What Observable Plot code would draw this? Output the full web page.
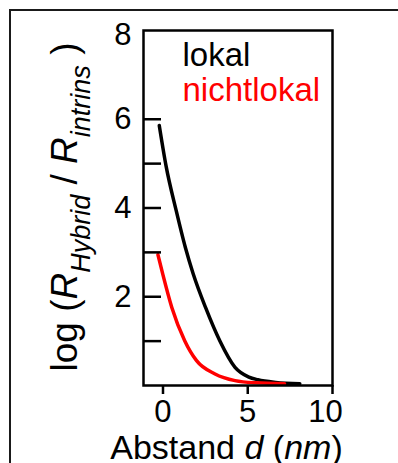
<!DOCTYPE html>
<html>
<head>
<meta charset="utf-8">
<script src="https://cdn.jsdelivr.net/npm/d3@7"></script>
<script src="https://cdn.jsdelivr.net/npm/@observablehq/plot@0.6"></script>
<style>
  html, body { margin: 0; padding: 0; background: #fff; overflow: hidden; }
  #wrap { position: relative; width: 398px; height: 463px; overflow: hidden; }
  #box { position: absolute; left: 9px; top: 9px; width: 600px; height: 700px;
         border-left: 2px solid #1a1a1a; border-top: 2px solid #1a1a1a; }
  #chart { position: absolute; left: 0; top: 0; }
</style>
</head>
<body>
<div id="wrap"><div id="box"></div><div id="chart"></div></div>
<script>
// Distance d (nm) and log(R_Hybrid / R_intrins) for the local model
const lokalD = [-0.22, 0.18, 0.78, 1.32, 1.78, 2.51, 3.35, 4.25, 5.07, 5.6, 6.65, 8.07];
const lokalV = [5.86, 4.95, 3.94, 3.11, 2.52, 1.76, 1.01, 0.41, 0.19, 0.13, 0.07, 0.04];
// ... and for the nonlocal model
const nichtD = [-0.3, -0.02, 0.52, 1.28, 1.98, 3.07, 4.25, 5.5, 7.17];
const nichtV = [2.95, 2.52, 1.76, 1.01, 0.56, 0.26, 0.11, 0.06, 0.04];

const seriesNames = ["lokal", "nichtlokal"];
const seriesColors = ["#000000", "#ff0000"];

const xTicks = [0, 5, 10];
const yTickMarks = [1, 2, 3, 4, 5, 6];
const yTickLabels = [2, 4, 6, 8];

const rows = (name, ds, vs) => ds.map((d, i) => ({series: name, d, v: vs[i]}));
const data = [
  ...rows(seriesNames[0], lokalD, lokalV),
  ...rows(seriesNames[1], nichtD, nichtV)
];

const font = "'Liberation Sans', Arial, Helvetica, sans-serif";
const tickFont = 31;

const svg = Plot.plot({
  width: 398,
  height: 463,
  marginLeft: 143,
  marginRight: 66,
  marginTop: 30,
  marginBottom: 78,
  style: {fontFamily: font, background: "transparent", color: "black", overflow: "visible"},
  x: {domain: [-1.15, 10]},
  y: {domain: [0, 8]},
  color: {domain: seriesNames, range: seriesColors},
  marks: [
    Plot.line(data, {x: "d", y: "v", z: "series", stroke: "series", strokeWidth: 3.5, curve: "monotone-x"}),
    Plot.frame({stroke: "black", strokeWidth: 2.5}),
    // inward tick marks on the left edge
    Plot.axisY(yTickMarks, {anchor: "left", tickSize: 18, dx: 18, strokeWidth: 2.5, tickFormat: () => "", label: null}),
    // tick labels; the top one sits a little below the corner
    Plot.axisY(yTickLabels.slice(0, -1), {anchor: "left", tickSize: 0, tickPadding: 12, fontSize: tickFont, label: null}),
    Plot.axisY(yTickLabels.slice(-1), {anchor: "left", tickSize: 0, tickPadding: 12, dy: 5, fontSize: tickFont, label: null}),
    Plot.axisX(xTicks, {anchor: "bottom", tickSize: 9, tickPadding: 5, strokeWidth: 2.5, fontSize: tickFont,
      tickFormat: d => d < 10 ? d : "", label: null}),
    Plot.axisX(xTicks.slice(-1), {anchor: "bottom", tickSize: 0, tickPadding: 14, dx: -7, fontSize: tickFont, label: null}),
    Plot.text([seriesNames[0]], {text: d => d, frameAnchor: "top-left", dx: 39, dy: 12, lineAnchor: "top",
      textAnchor: "start", fontSize: 33, fill: seriesColors[0]}),
    Plot.text([seriesNames[1]], {text: d => d, frameAnchor: "top-left", dx: 39, dy: 47, lineAnchor: "top",
      textAnchor: "start", fontSize: 33, fill: seriesColors[1]})
  ]
});

document.getElementById("chart").appendChild(svg);

// Axis titles with italics and subscripts
const s = d3.select(svg);

const yt = s.append("text")
  .attr("transform", "translate(77,207) rotate(-90)")
  .attr("text-anchor", "middle")
  .attr("font-family", font)
  .attr("font-size", 37)
  .attr("fill", "black");
yt.append("tspan").text("log (");
yt.append("tspan").attr("font-style", "italic").text("R");
yt.append("tspan").attr("font-style", "italic").attr("font-size", 27).attr("dy", 13).text("Hybrid");
yt.append("tspan").attr("dy", -13).text(" / ");
yt.append("tspan").attr("font-style", "italic").text("R");
yt.append("tspan").attr("font-style", "italic").attr("font-size", 27).attr("dy", 13).text("intrins");
yt.append("tspan").attr("dy", -13).text(" )");

const xt = s.append("text")
  .attr("x", 226.5)
  .attr("y", 459)
  .attr("text-anchor", "middle")
  .attr("font-family", font)
  .attr("font-size", 34)
  .attr("fill", "black");
xt.append("tspan").text("Abstand ");
xt.append("tspan").attr("font-style", "italic").text("d");
xt.append("tspan").text(" (");
xt.append("tspan").attr("font-style", "italic").text("nm");
xt.append("tspan").text(")");
</script>
</body>
</html>
